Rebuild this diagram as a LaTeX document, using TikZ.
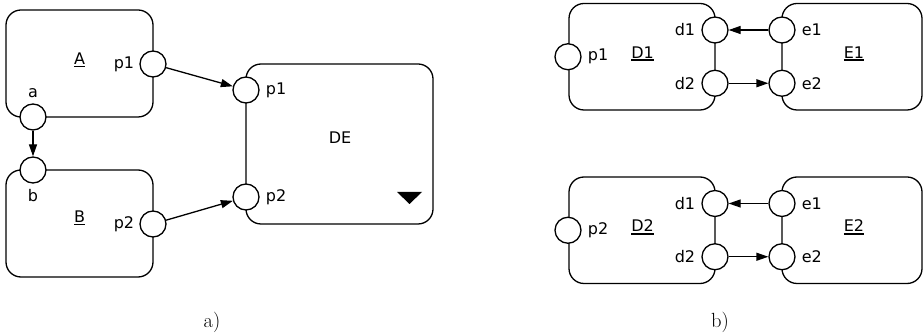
\documentclass[tikz,border=0pt]{standalone}
\usepackage{fontspec}
\setsansfont{DejaVu Sans}
\usetikzlibrary{arrows.meta,positioning}
% underlined part name with a heavier rule
\newcommand\ulpart[1]{\setbox0\hbox{#1}\rlap{\rule[-2.8pt]{\wd0}{1.6pt}}\box0}
\begin{document}
\begin{tikzpicture}[x=1pt,y=-1pt,
  lw/.style={line width=1.3pt},
  part/.style={draw,lw,rounded corners=15pt,inner sep=0pt},
  port/.style={draw,lw,circle,fill=white,minimum size=26pt,inner sep=0pt},
  lbl/.style={font=\sffamily\fontsize{16}{19}\selectfont,inner sep=0pt},
  conn/.style={lw,-{Triangle[length=12pt,width=8pt]}},
  caption/.style={font=\fontsize{20.5}{23}\selectfont,inner sep=0pt},
  node distance=6pt]
\useasboundingbox (0,0) rectangle (924,336);

% ---------- a) ----------
\node[part,minimum width=147pt,minimum height=107pt] (A) at (79.5,63.5) {};
\node[part,minimum width=147pt,minimum height=107pt] (B) at (79.5,223.5) {};
\node[part,minimum width=187pt,minimum height=160pt] (DE) at (339.5,144) {};

\node[port] (Ap1) at (153,64) {};
\node[port] (Aa) at (33,117) {};
\node[port] (Bb) at (33,170) {};
\node[port] (Bp2) at (153,224) {};
\node[port] (DEp1) at (246,90) {};
\node[port] (DEp2) at (246,197) {};

\node[lbl] (Aname) at (79.5,60) {\ulpart{A}};
\node[lbl] (Bname) at (79.5,218) {\ulpart{B}};
\node[lbl] (DEname) at (340,138) {DE};
\node[lbl,left=5pt of Ap1] (Ap1l) {p1};
\node[lbl,left=5pt of Bp2] (Bp2l) {p2};
\node[lbl,above=5pt of Aa] (Aal) {a};
\node[lbl,below=5pt of Bb] (Bbl) {b};
\node[lbl,right=of DEp1] (DEp1l) {p1};
\node[lbl,right=of DEp2] (DEp2l) {p2};

\fill (397,192) -- (422,192) -- (409.5,204) -- cycle;

\draw[conn] (Ap1) -- (DEp1);
\draw[conn] (Bp2) -- (DEp2);
\draw[conn] (Aa) -- (Bb);

\node[caption] (capa) at (212,322) {a)};

% ---------- b) ----------
\foreach \n/\y/\p in {1/56.75/p1, 2/230.25/p2}{
  \node[part,minimum width=146pt,minimum height=106.5pt] (D\n) at (642,\y) {};
  \node[part,minimum width=140pt,minimum height=106.5pt] (E\n) at (852,\y) {};
  \node[port] (D\n p) at (568,\y) {};
  \node[port] (D\n d1) at (715,\y-26.75) {};
  \node[port] (D\n d2) at (715,\y+26.5) {};
  \node[port] (E\n e1) at (782,\y-26.75) {};
  \node[port] (E\n e2) at (782,\y+26.5) {};
  \node[lbl] (D\n name) at (642.5,\y-3) {\ulpart{D\n}};
  \node[lbl] (E\n name) at (854,\y-3) {\ulpart{E\n}};
  \node[lbl,right=of D\n p] (D\n pl) {\p};
  \node[lbl,left=of D\n d1] (D\n d1l) {d1};
  \node[lbl,left=of D\n d2] (D\n d2l) {d2};
  \node[lbl,right=of E\n e1] (E\n e1l) {e1};
  \node[lbl,right=of E\n e2] (E\n e2l) {e2};
  \draw[conn] (E\n e1) -- (D\n d1);
  \draw[conn] (D\n d2) -- (E\n e2);
}

\node[caption] (capb) at (720,322) {b)};
\end{tikzpicture}
\end{document}
